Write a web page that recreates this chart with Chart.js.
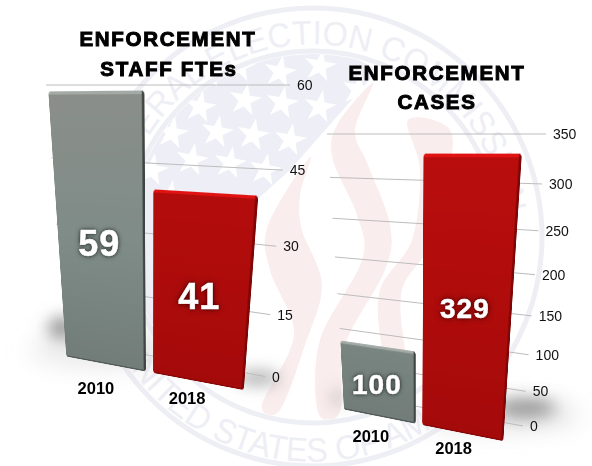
<!DOCTYPE html>
<html>
<head>
<meta charset="utf-8">
<title>Enforcement</title>
<script src="https://cdn.jsdelivr.net/npm/chart.js@4"></script>
<style>
  html, body { margin: 0; padding: 0; background: #fff; }
  #stage { position: relative; width: 592px; height: 466px; overflow: hidden; font-family: "Liberation Sans", Arial, sans-serif; }
  #stage > svg, #gridLayer { position: absolute; left: 0; top: 0; }
  .bars { position: absolute; left: 0; top: 0; transform-origin: 0 0; }
  .label { position: absolute; transform: translate(-50%, -50%); white-space: nowrap; }
  .title { font-size: 20.5px; font-weight: bold; letter-spacing: 1.7px; color: #000; -webkit-text-stroke: 1px #000; }
  .tick { font-size: 14px; color: #111; transform: translate(0, -50%); }
  .year { font-size: 16.5px; font-weight: bold; color: #000; }
  .value { font-weight: bold; color: #fff; -webkit-text-stroke: 0.5px #fff; letter-spacing: 1px; }
</style>
</head>
<body>
<div id="stage">
  <svg width="592" height="466" viewBox="0 0 592 466">
    <defs>
      <filter id="soft" x="-60%" y="-80%" width="220%" height="260%"><feGaussianBlur stdDeviation="8"/></filter>
      <filter id="wide" x="-40%" y="-80%" width="180%" height="260%"><feGaussianBlur stdDeviation="12"/></filter>
      <clipPath id="disc"><circle cx="313" cy="237" r="183"/></clipPath>
      <path id="topArc" d="M 125 197 A 192 192 0 0 1 502 203"/>
      <path id="bottomArc" d="M 118 349 A 225 225 0 0 0 508 349"/>
    </defs>
    <g fill="none" stroke="#eeeef5">
      <circle cx="313" cy="237" r="229" stroke-width="5"/>
      <circle cx="313" cy="237" r="186" stroke-width="5"/>
    </g>
    <g clip-path="url(#disc)">
      <polygon id="field" points="100,340 165,320 240,215 290,170 378,70 300,30 100,30" fill="#eeeef6"/>
      <g id="stars" fill="#fff"></g>
      <g id="flames" fill="#faeded"></g>
    </g>
    <g font-family="Liberation Sans, Arial, sans-serif" font-size="34" fill="#eeeef5">
      <text><textPath href="#topArc" textLength="540" lengthAdjust="spacingAndGlyphs">FEDERAL ELECTION COMMISSION</textPath></text>
      <text><textPath href="#bottomArc" textLength="460" lengthAdjust="spacingAndGlyphs">UNITED STATES OF AMERICA</textPath></text>
    </g>
    <g filter="url(#wide)" fill="#cfcfcf">
      <ellipse cx="120" cy="350" rx="90" ry="18" opacity="0.45"/>
      <ellipse cx="500" cy="415" rx="80" ry="14" opacity="0.6"/>
    </g>
    <g filter="url(#soft)" fill="#959595">
      <ellipse cx="62" cy="328" rx="14" ry="11"/>
      <ellipse cx="258" cy="378" rx="22" ry="7" opacity="0.8"/>
      <ellipse cx="338" cy="398" rx="7" ry="8" opacity="0.5"/>
      <ellipse cx="526" cy="408" rx="30" ry="9"/>
    </g>
  </svg>
  <canvas id="gridLayer" width="592" height="466"></canvas>
  <canvas id="staffChart" class="bars"></canvas>
  <canvas id="casesChart" class="bars"></canvas>
</div>
<script>
const years = ['2010', '2018'];
const staffValues = [59, 41];
const caseValues = [100, 329];
const staffTicks = [0, 15, 30, 45, 60];
const caseTicks = [0, 50, 100, 150, 200, 250, 300, 350];

// seal artwork behind the charts
const starSpots = [[245,100],[282,103],[320,107],[217,132],[253,135],[290,140],[192,160],[230,163],[265,170],
    [200,107],[170,197],[280,72],[320,66],[210,72],[172,133],[152,170],[358,90],[240,66]];
const flameOutlines = [
    [[310,157],[268,225],[270,270],[292,320],[290,350],[262,405],[280,410],[305,345],[322,285],[302,230],[300,195]],
    [[373,83],[337,125],[333,160],[357,215],[362,260],[320,340],[318,412],[340,412],[345,345],[385,270],[390,225],[368,165],[355,130]],
    [[408,120],[420,170],[412,240],[380,290],[382,350],[395,402],[415,402],[405,350],[402,290],[430,245],[447,180],[450,130]]
];

const CANVAS_SIZE = 300;
const GRAY = ['#8b8f8b', '#7f8c88', '#727d79'];
const RED = ['#bb0e0e', '#b00c0c', '#a50a0a'];

// corners are top-left, top-right, bottom-right, bottom-left on the page
const panels = [
    {
        canvas: 'staffChart', values: staffValues, ticks: staffTicks, step: 15,
        grid: [[46, 85], [290, 85], [265, 376.5], [65, 340]],
        plane: [[44, 86], [272, 83], [248, 391], [63, 356]],
        yearOffset: [[-9, 24], [-10, 17]],
        valueSize: [36, 36]
    },
    {
        canvas: 'casesChart', values: caseValues, ticks: caseTicks, step: 50,
        grid: [[327, 134], [546, 134], [523, 426], [344, 393]],
        plane: [[326, 134], [528, 131], [507, 442], [341, 409]],
        yearOffset: [[-8, 19], [-8, 15]],
        valueSize: [28, 28]
    }
];

// unit square -> quad, Heckbert's projective mapping
function squareToQuad(q) {
    const [p0, p1, p2, p3] = q;
    const dx1 = p1[0] - p2[0], dx2 = p3[0] - p2[0], sx = p0[0] - p1[0] + p2[0] - p3[0];
    const dy1 = p1[1] - p2[1], dy2 = p3[1] - p2[1], sy = p0[1] - p1[1] + p2[1] - p3[1];
    const det = dx1 * dy2 - dx2 * dy1;
    const g = (sx * dy2 - dx2 * sy) / det;
    const h = (dx1 * sy - sx * dy1) / det;
    return {
        a: p1[0] - p0[0] + g * p1[0], b: p3[0] - p0[0] + h * p3[0], c: p0[0],
        d: p1[1] - p0[1] + g * p1[1], e: p3[1] - p0[1] + h * p3[1], f: p0[1],
        g, h
    };
}

function project(m, u, v) {
    const w = m.g * u + m.h * v + 1;
    return [(m.a * u + m.b * v + m.c) / w, (m.d * u + m.e * v + m.f) / w];
}

function cssMatrix(m, size) {
    return 'matrix3d(' + [
        m.a / size, m.d / size, 0, m.g / size,
        m.b / size, m.e / size, 0, m.h / size,
        0, 0, 1, 0,
        m.c, m.f, 0, 1
    ].join(',') + ')';
}

function addLabel(text, x, y, cls, size) {
    const el = document.createElement('div');
    el.className = 'label ' + cls;
    el.textContent = text;
    el.style.left = x + 'px';
    el.style.top = y + 'px';
    if (size) el.style.fontSize = size + 'px';
    document.getElementById('stage').appendChild(el);
    return el;
}

function barFill(ctx) {
    const colors = ctx.dataIndex === 0 ? GRAY : RED;
    const area = ctx.chart.chartArea;
    if (!area) return colors[1];
    const g = ctx.chart.ctx.createLinearGradient(0, area.top, 0, area.bottom);
    g.addColorStop(0, colors[0]);
    g.addColorStop(0.5, colors[1]);
    g.addColorStop(1, colors[2]);
    return g;
}

// bevel on the bars
const barEdges = {
    id: 'barEdges',
    afterDatasetsDraw(chart) {
        const c = chart.ctx;
        const tones = [['#a3aaa6', '#3f4543', '#545c59'], ['#e01212', '#7e0606', '#8a0707']];
        chart.getDatasetMeta(0).data.forEach((bar, i) => {
            const left = bar.x - bar.width / 2;
            const height = bar.base - bar.y;
            c.save();
            c.beginPath();
            c.roundRect(left, bar.y, bar.width, height, 4);
            c.clip();
            c.fillStyle = tones[i][0];
            c.fillRect(left, bar.y, bar.width, 3);
            c.fillStyle = tones[i][1];
            c.fillRect(left + bar.width - 3.5, bar.y, 3.5, height);
            c.fillStyle = tones[i][2];
            c.fillRect(left, bar.base - 2, bar.width, 2);
            c.restore();
        });
    }
};

const gridCtx = document.getElementById('gridLayer').getContext('2d');

// grid lines and labels sit outside the warped canvas so the text stays upright
function drawPanelExtras(chart, panel) {
    const area = chart.chartArea;
    const yScale = chart.scales.y;
    const gridMap = squareToQuad(panel.grid);
    const planeMap = squareToQuad(panel.plane);
    const frac = px => (px - area.top) / (area.bottom - area.top);

    gridCtx.strokeStyle = '#bcbcbc';
    gridCtx.lineWidth = 1;
    panel.ticks.forEach(t => {
        const v = frac(yScale.getPixelForValue(t));
        const a = project(gridMap, 0, v);
        const b = project(gridMap, 1, v);
        gridCtx.beginPath();
        gridCtx.moveTo(a[0], a[1]);
        gridCtx.lineTo(b[0], b[1]);
        gridCtx.stroke();
        addLabel(String(t), b[0] + 7, b[1], 'tick');
    });

    chart.getDatasetMeta(0).data.forEach((bar, i) => {
        const u = (bar.x - area.left) / (area.right - area.left);
        const mid = project(planeMap, u, frac((bar.y + bar.base) / 2));
        const foot = project(planeMap, u, frac(bar.base));
        const off = panel.yearOffset[i];
        addLabel(years[i], foot[0] + off[0], foot[1] + off[1], 'year');
        const el = addLabel(String(panel.values[i]), mid[0] - 1, mid[1] + 3, 'value', panel.valueSize[i]);
        el.style.textShadow = i === 0
            ? '0 0 5px #2c3230, 0 0 3px rgba(40,45,43,.8)'
            : '0 0 6px #4a0000, 0 0 3px rgba(60,0,0,.8)';
    });
}

function once(fn) {
    let done = false;
    return chart => { if (!done) { done = true; fn(chart); } };
}

function buildChart(panel) {
    const canvas = document.getElementById(panel.canvas);
    canvas.style.transform = cssMatrix(squareToQuad(panel.plane), CANVAS_SIZE);
    return new Chart(canvas, {
        type: 'bar',
        data: {
            labels: years,
            datasets: [{
                data: panel.values,
                backgroundColor: barFill,
                borderRadius: 4,
                borderSkipped: false,
                barPercentage: 0.92,
                categoryPercentage: 1
            }]
        },
        options: {
            responsive: false,
            animation: false,
            devicePixelRatio: 2,
            layout: { padding: 0 },
            plugins: { legend: { display: false }, tooltip: { enabled: false } },
            scales: {
                x: { display: false },
                y: {
                    display: false,
                    min: panel.ticks[0],
                    max: panel.ticks[panel.ticks.length - 1],
                    ticks: { stepSize: panel.step }
                }
            }
        },
        plugins: [barEdges, { id: 'extras', afterRender: once(chart => drawPanelExtras(chart, panel)) }]
    });
}

// closed smooth curve through the outline points
function smoothPath(pts) {
    const n = pts.length;
    let d = 'M ' + pts[0].join(' ');
    for (let i = 0; i < n; i++) {
        const p0 = pts[(i - 1 + n) % n], p1 = pts[i], p2 = pts[(i + 1) % n], p3 = pts[(i + 2) % n];
        d += ' C ' + (p1[0] + (p2[0] - p0[0]) / 6) + ' ' + (p1[1] + (p2[1] - p0[1]) / 6) +
            ' ' + (p2[0] - (p3[0] - p1[0]) / 6) + ' ' + (p2[1] - (p3[1] - p1[1]) / 6) +
            ' ' + p2[0] + ' ' + p2[1];
    }
    return d + ' Z';
}

document.addEventListener('DOMContentLoaded', function () {
    const SVG_NS = 'http://www.w3.org/2000/svg';
    const starGroup = document.getElementById('stars');
    starSpots.forEach(([x, y]) => {
        const pts = [];
        for (let i = 0; i < 10; i++) {
            const r = i % 2 ? 6.5 : 17;
            const a = -Math.PI / 2 + 0.18 + i * Math.PI / 5;
            pts.push((x + r * Math.cos(a)).toFixed(1) + ',' + (y + r * Math.sin(a)).toFixed(1));
        }
        const star = document.createElementNS(SVG_NS, 'polygon');
        star.setAttribute('points', pts.join(' '));
        starGroup.appendChild(star);
    });
    const flameGroup = document.getElementById('flames');
    flameOutlines.forEach(pts => {
        const flame = document.createElementNS(SVG_NS, 'path');
        flame.setAttribute('d', smoothPath(pts));
        flameGroup.appendChild(flame);
    });

    panels.forEach(p => {
        const canvas = document.getElementById(p.canvas);
        canvas.width = CANVAS_SIZE;
        canvas.height = CANVAS_SIZE;
        buildChart(p);
    });

    addLabel('ENFORCEMENT', 168, 39, 'title');
    addLabel('STAFF FTEs', 169, 69, 'title');
    addLabel('ENFORCEMENT', 437, 73, 'title');
    addLabel('CASES', 437, 102, 'title');
});
</script>
</body>
</html>
